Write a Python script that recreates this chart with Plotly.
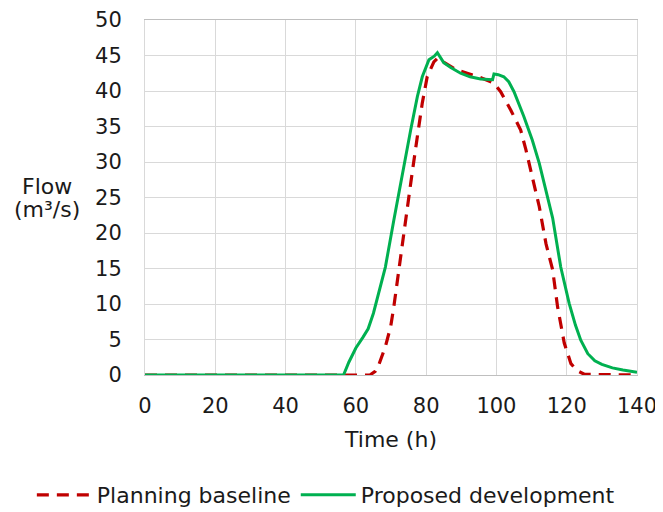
import plotly.graph_objects as go

# Planning baseline (red dashed)
base_t = [0, 64, 65.5, 66.5, 68.4, 69.9, 70.8, 71.7, 72.7, 74.6, 76, 77.5, 78.9, 80.3, 82.2, 83.2,
          86, 88.5, 91.7, 95, 99.3, 101.2, 104.1, 106.9, 108.4, 109.8, 111.2, 112.2, 114.1, 116,
          117.4, 119.3, 121.2, 123, 125, 140]
base_q = [0, 0, 0.5, 1.4, 4, 6.8, 9.6, 12.9, 17.1, 23.7, 28.4, 33.6, 38.3, 42, 44.1, 44.6,
          43.7, 43.0, 42.5, 42.0, 41.1, 39.9, 37.3, 34.5, 31.7, 28.9, 26.1, 23.7, 18.5, 14.8,
          9.6, 4.5, 1.6, 0.6, 0.1, 0]

# Proposed development (green solid)
dev_t = [0, 56.5, 58, 60, 62, 63.5, 65, 67, 68.4, 70.8, 73.2, 75.6, 77.5, 78.9, 80.8, 82.3, 83.2,
         84, 85, 87, 89.8, 92.5, 95.5, 98.9, 99.3, 100.5, 102.1, 103.5, 105, 107.8, 110.2, 112.2,
         114.1, 116, 118.3, 120.7, 122.5, 124, 126, 128, 130, 133, 136, 140]
dev_q = [0, 0, 1.8, 3.8, 5.3, 6.5, 8.7, 12.4, 15.2, 21.8, 28.4, 34.5, 39.2, 42, 44.4, 44.9, 45.4,
         44.8, 44, 43.3, 42.5, 42.0, 41.7, 41.6, 42.4, 42.3, 42.0, 41.3, 39.9, 36.4, 33.1, 29.8,
         26.1, 22.1, 15.2, 10.1, 7.0, 4.9, 3.0, 2.0, 1.5, 1.0, 0.7, 0.4]

x_ticks = [0, 20, 40, 60, 80, 100, 120, 140]
y_ticks = [0, 5, 10, 15, 20, 25, 30, 35, 40, 45, 50]

FONT = "DejaVu Sans"
TXT = "#1a1a1a"

fig = go.Figure()
fig.add_trace(go.Scatter(x=base_t, y=base_q, mode="lines", name="Planning baseline",
                         line=dict(color="#C00000", width=3.2, dash="12px,8px")))
fig.add_trace(go.Scatter(x=dev_t, y=dev_q, mode="lines", name="Proposed development",
                         line=dict(color="#00B050", width=3)))

# page body adds an 8px margin, so the figure is sized 8px smaller
fig.update_layout(
    width=655, height=504,
    margin=dict(l=137, r=26, t=12, b=137, autoexpand=False),
    paper_bgcolor="white", plot_bgcolor="white",
    font=dict(family=FONT, size=21, color=TXT),
    legend=dict(orientation="h", x=-0.23, xanchor="left", y=-0.279, yanchor="top",
                font=dict(size=22), itemwidth=55, tracegroupgap=0),
    showlegend=True,
)
fig.update_xaxes(range=[0, 140], tickvals=x_ticks, ticktext=[str(v) for v in x_ticks],
                 showgrid=True, gridcolor="#d9d9d9", gridwidth=1,
                 showline=True, linecolor="#bfbfbf", linewidth=1, mirror=True,
                 zeroline=False, ticks="", ticklabelstandoff=12,
                 title=dict(text="Time (h)", standoff=14, font=dict(size=22)))
fig.update_yaxes(range=[0, 50], tickvals=y_ticks, ticktext=[str(v) for v in y_ticks],
                 showgrid=True, gridcolor="#d9d9d9", gridwidth=1,
                 showline=True, linecolor="#d9d9d9", linewidth=1, mirror=True,
                 zeroline=False, ticks="", ticklabelstandoff=18)

fig.add_annotation(text="Flow", xref="paper", yref="paper",
                   x=-0.199, y=0.532, xanchor="center", yanchor="middle",
                   showarrow=False, font=dict(size=22, family=FONT, color=TXT))
fig.add_annotation(text="(m³/s)", xref="paper", yref="paper",
                   x=-0.199, y=0.465, xanchor="center", yanchor="middle",
                   showarrow=False, font=dict(size=22, family=FONT, color=TXT))

fig.write_html("out.html")
